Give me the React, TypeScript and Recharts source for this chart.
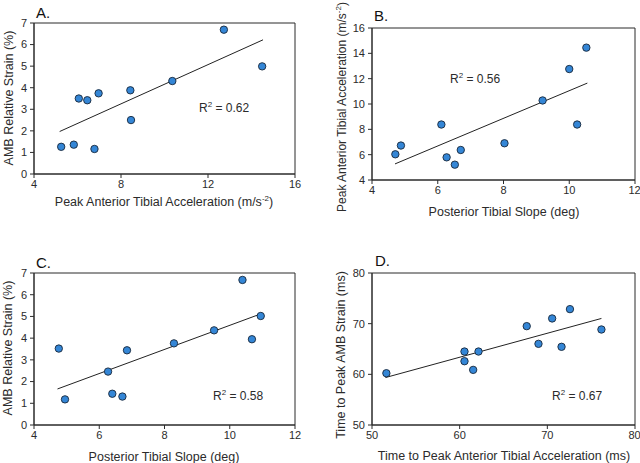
import React from "react";
import { ScatterChart, Scatter, XAxis, YAxis, ReferenceLine, ReferenceArea } from "recharts";

// panel A: strain vs peak acceleration
const accelA = [5.25, 5.83, 6.06, 6.45, 6.78, 6.97, 8.43, 8.46, 10.36, 12.73, 14.49];
const strainA = [1.26, 1.36, 3.5, 3.42, 1.16, 3.74, 3.88, 2.5, 4.31, 6.69, 4.99];
const fitA = [[5.18, 1.97], [14.53, 6.22]];

// panel B: peak acceleration vs slope
const slopeB = [4.71, 4.88, 6.11, 6.27, 6.52, 6.7, 8.03, 9.19, 10.0, 10.24, 10.52];
const accelB = [6.03, 6.72, 8.38, 5.79, 5.21, 6.37, 6.9, 10.28, 12.76, 8.38, 14.45];
const fitB = [[4.7, 5.27], [10.55, 11.65]];

// panel C: strain vs slope
const slopeC = [4.76, 4.95, 6.27, 6.4, 6.71, 6.85, 8.29, 9.52, 10.39, 10.68, 10.95];
const strainC = [3.52, 1.18, 2.46, 1.44, 1.31, 3.44, 3.76, 4.36, 6.68, 3.95, 5.02];
const fitC = [[4.72, 1.66], [10.92, 5.1]];

// panel D: timing
const timeAccelD = [51.64, 60.55, 60.55, 61.54, 62.15, 67.65, 68.99, 70.55, 71.62, 72.58, 76.17];
const timeStrainD = [60.22, 64.5, 62.59, 60.88, 64.5, 69.51, 66.02, 71.03, 65.43, 72.87, 68.85];
const fitD = [[51.53, 59.36], [76.17, 71.03]];

const ticksA = { x: [4, 8, 12, 16], y: [0, 1, 2, 3, 4, 5, 6, 7] };
const ticksB = { x: [4, 6, 8, 10, 12], y: [4, 6, 8, 10, 12, 14, 16] };
const ticksC = { x: [4, 6, 8, 10, 12], y: [0, 1, 2, 3, 4, 5, 6, 7] };
const ticksD = { x: [50, 60, 70, 80], y: [50, 60, 70, 80] };

const r2Labels = ["0.62", "0.56", "0.58", "0.67"];
const titles = ["A.", "B.", "C.", "D."];

const FONT = "'Liberation Sans', Arial, sans-serif";
const INK = "#2b2b2b";
const DOT = "#3486d6";

const toRows = (xs: number[], ys: number[]) => xs.map((x, i) => ({ x, y: ys[i] }));
const toSeg = (f: number[][]) => f.map(([x, y]) => ({ x, y }));

const Dot = (props: any) => (
    <circle cx={props.cx} cy={props.cy} r={3.7} fill={DOT} stroke="#17273a" strokeWidth={0.9} />
);

interface PanelProps {
    left: number;
    top: number;
    xs: number[];
    ys: number[];
    fit: number[][];
    ticks: { x: number[]; y: number[] };
    margin: { top: number; right: number; bottom: number; left: number };
    yWidth: number;
}

function Panel({ left, top, xs, ys, fit, ticks, margin, yWidth }: PanelProps) {
    const xd = [ticks.x[0], ticks.x[ticks.x.length - 1]];
    const yd = [ticks.y[0], ticks.y[ticks.y.length - 1]];
    const tick = { fontSize: 11, fill: INK, fontFamily: FONT };
    return (
        <div style={{ position: "absolute", left, top }}>
            <ScatterChart width={320} height={231} margin={margin}>
                <XAxis
                    type="number"
                    dataKey="x"
                    domain={xd}
                    ticks={ticks.x}
                    tick={tick}
                    tickSize={4}
                    tickMargin={2}
                    height={20}
                    stroke={INK}
                    allowDataOverflow
                />
                <YAxis
                    type="number"
                    dataKey="y"
                    domain={yd}
                    ticks={ticks.y}
                    tick={tick}
                    tickSize={4}
                    tickMargin={3}
                    width={yWidth}
                    stroke={INK}
                    allowDataOverflow
                />
                <ReferenceArea x1={xd[0]} x2={xd[1]} y1={yd[0]} y2={yd[1]} fill="none" fillOpacity={0} stroke={INK} strokeWidth={1} />
                <ReferenceLine segment={toSeg(fit)} stroke="#222" strokeWidth={1} />
                <Scatter data={toRows(xs, ys)} shape={Dot} isAnimationActive={false} />
            </ScatterChart>
        </div>
    );
}

const Sup = ({ base, sup, after }: { base: string; sup: string; after: string }) => (
    <>
        {base}
        <tspan dy={-5} fontSize={8}>{sup}</tspan>
        <tspan dy={5}>{after}</tspan>
    </>
);

export default function App() {
    const lab = { fontFamily: FONT, fill: INK, fontSize: 12.5 };
    const ttl = { fontFamily: FONT, fill: "#111", fontSize: 15 };
    const r2 = { fontFamily: FONT, fill: INK, fontSize: 12 };
    return (
        <div style={{ position: "absolute", left: 0, top: 0, width: 640, height: 463, background: "#fff" }}>
            <Panel left={0} top={0} xs={accelA} ys={strainA} fit={fitA} ticks={ticksA}
                margin={{ top: 23, right: 25, bottom: 37, left: 0 }} yWidth={34} />
            <Panel left={320} top={0} xs={slopeB} ys={accelB} fit={fitB} ticks={ticksB}
                margin={{ top: 28, right: 5, bottom: 31, left: 0 }} yWidth={52} />
            <Panel left={0} top={232} xs={slopeC} ys={strainC} fit={fitC} ticks={ticksC}
                margin={{ top: 41, right: 25, bottom: 18, left: 0 }} yWidth={34} />
            <Panel left={320} top={232} xs={timeAccelD} ys={timeStrainD} fit={fitD} ticks={ticksD}
                margin={{ top: 41, right: 5, bottom: 18, left: 0 }} yWidth={52} />

            <svg width={640} height={463} style={{ position: "absolute", left: 0, top: 0, pointerEvents: "none" }}>
                <text x={36} y={12} dominantBaseline="central" {...ttl}>{titles[0]}</text>
                <text x={374} y={15} dominantBaseline="central" {...ttl}>{titles[1]}</text>
                <text x={36} y={262} dominantBaseline="central" {...ttl}>{titles[2]}</text>
                <text x={375} y={260} dominantBaseline="central" {...ttl}>{titles[3]}</text>

                <text x={164} y={206} textAnchor="middle" {...lab}>
                    <Sup base="Peak Anterior Tibial Acceleration (m/s" sup="-2" after=")" />
                </text>
                <text x={504} y={216} textAnchor="middle" {...lab}>Posterior Tibial Slope (deg)</text>
                <text x={164} y={461} textAnchor="middle" {...lab}>Posterior Tibial Slope (deg)</text>
                <text x={504} y={460} textAnchor="middle" {...lab}>Time to Peak Anterior Tibial Acceleration (ms)</text>

                <text transform="translate(12.5,98) rotate(-90)" textAnchor="middle" {...lab}>AMB Relative Strain (%)</text>
                <text transform="translate(345.5,107) rotate(-90)" textAnchor="middle" {...lab} fontSize={12}>
                    <Sup base="Peak Anterior Tibial Acceleration (m/s" sup="-2" after=")" />
                </text>
                <text transform="translate(11.5,348) rotate(-90)" textAnchor="middle" {...lab}>AMB Relative Strain (%)</text>
                <text transform="translate(345,355) rotate(-90)" textAnchor="middle" {...lab}>Time to Peak AMB Strain (ms)</text>

                <text x={199} y={112} {...r2}><Sup base="R" sup="2" after={" = " + r2Labels[0]} /></text>
                <text x={450} y={83} {...r2}><Sup base="R" sup="2" after={" = " + r2Labels[1]} /></text>
                <text x={213} y={400} {...r2}><Sup base="R" sup="2" after={" = " + r2Labels[2]} /></text>
                <text x={552} y={400} {...r2}><Sup base="R" sup="2" after={" = " + r2Labels[3]} /></text>
            </svg>
        </div>
    );
}
